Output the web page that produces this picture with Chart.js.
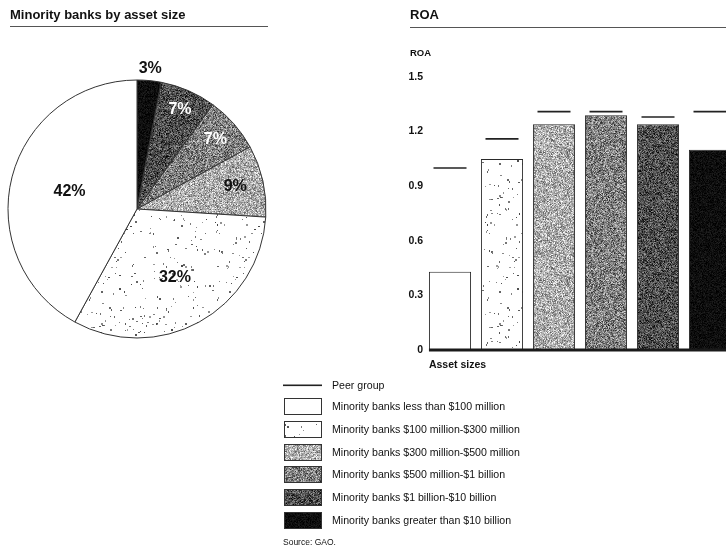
<!DOCTYPE html>
<html>
<head>
<meta charset="utf-8">
<script src="https://cdn.jsdelivr.net/npm/chart.js@4.4.0/dist/chart.umd.min.js"></script>
<style>
  html, body { margin: 0; padding: 0; background: #fff; width: 726px; height: 550px; overflow: hidden; position: relative; }
  canvas { position: absolute; top: 0; }
  #pie { left: 0; }
  #roa { left: 270px; }
</style>
</head>
<body>
<canvas id="pie" width="270" height="360"></canvas>
<canvas id="roa" width="470" height="550"></canvas>
<script>
// Asset-size groups, smallest to largest
const sizeGroups = [
  'Minority banks less than $100 million',
  'Minority banks $100 million-$300 million',
  'Minority banks $300 million-$500 million',
  'Minority banks $500 million-$1 billion',
  'Minority banks $1 billion-$10 billion',
  'Minority banks greater than $10 billion'
];
// Share of minority banks in each group (%)
const sharePercent = [42, 32, 9, 7, 7, 3];
// Return on assets for each group and for its peer group
const roaValues  = [0.43, 1.05, 1.24, 1.29, 1.24, 1.10];
const peerValues = [1.00, 1.16, 1.31, 1.31, 1.28, 1.31];
// Value axis
const roaMin = 0, roaMax = 1.5, roaStep = 0.3;

const FONT = "'Liberation Sans', Arial, Helvetica, sans-serif";
Chart.defaults.font.family = FONT;
Chart.defaults.color = '#111';

// ---- print-style fills: grainy halftone greys and a sparse stipple ----
const TILE = 128;
function hash(i, seed) {
  // integer mixing hash -> [0, 1)
  let h = (i * 374761393 + seed * 668265263) | 0;
  h = Math.imul(h ^ (h >>> 13), 1274126177);
  h ^= h >>> 16;
  return (h >>> 0) / 4294967296;
}
function grainFill(mean, amp, seed) {
  const c = document.createElement('canvas');
  c.width = c.height = TILE;
  const g = c.getContext('2d');
  const img = g.createImageData(TILE, TILE);
  for (let i = 0; i < TILE * TILE; i++) {
    const r = (hash(i, seed) + hash(i, seed + 101)) / 2;
    const v = Math.max(0, Math.min(255, Math.round(mean + (r - 0.5) * 2 * amp)));
    img.data[i * 4] = img.data[i * 4 + 1] = img.data[i * 4 + 2] = v;
    img.data[i * 4 + 3] = 255;
  }
  g.putImageData(img, 0, 0);
  return g.createPattern(c, 'repeat');
}
function stippleFill(density, seed) {
  const c = document.createElement('canvas');
  c.width = c.height = TILE;
  const g = c.getContext('2d');
  g.fillStyle = '#fff';
  g.fillRect(0, 0, TILE, TILE);
  for (let i = 0; i < TILE * TILE; i++) {
    if (hash(i, seed) < density) {
      const x = i % TILE, y = Math.floor(i / TILE);
      const shade = 70 + Math.round(hash(i, seed + 7) * 90);
      g.fillStyle = 'rgb(' + shade + ',' + shade + ',' + shade + ')';
      g.fillRect(x, y, hash(i, seed + 17) < 0.35 ? 2 : 1, hash(i, seed + 29) < 0.35 ? 2 : 1);
    }
  }
  return g.createPattern(c, 'repeat');
}
const groupFills = [
  '#ffffff',
  stippleFill(0.014, 3),
  grainFill(174, 95, 5),
  grainFill(128, 100, 7),
  grainFill(78, 85, 11),
  grainFill(14, 22, 13)
];

// ---- pie: share of banks by asset size ----
const pieLabelPlugin = {
  id: 'sliceLabels',
  afterDatasetsDraw(chart, args, opts) {
    const ctx = chart.ctx;
    const meta = chart.getDatasetMeta(0);
    const values = chart.data.datasets[0].data;
    ctx.save();
    ctx.font = 'bold 16px ' + FONT;
    ctx.textAlign = 'center';
    ctx.textBaseline = 'middle';
    meta.data.forEach((arc, i) => {
      const p = arc.getProps(['x', 'y', 'startAngle', 'endAngle', 'outerRadius'], true);
      const mid = (p.startAngle + p.endAngle) / 2;
      const r = p.outerRadius * opts.radial[i];
      ctx.fillStyle = opts.colors[i];
      ctx.fillText(values[i] + '%', p.x + Math.cos(mid) * r, p.y + Math.sin(mid) * r);
    });
    ctx.restore();
  }
};

const headingPlugin = {
  id: 'heading',
  afterDraw(chart, args, opts) {
    const ctx = chart.ctx;
    ctx.save();
    ctx.font = 'bold 13px ' + FONT;
    ctx.fillStyle = '#111';
    ctx.textBaseline = 'middle';
    ctx.textAlign = 'left';
    ctx.fillText(opts.text, opts.x, 15);
    ctx.strokeStyle = '#555';
    ctx.lineWidth = 1;
    ctx.beginPath();
    ctx.moveTo(opts.x, 26.5);
    ctx.lineTo(opts.x2, 26.5);
    ctx.stroke();
    ctx.restore();
  }
};

const pieOrder = [5, 4, 3, 2, 1, 0]; // clockwise from 12 o'clock: largest banks first
new Chart(document.getElementById('pie'), {
  type: 'pie',
  data: {
    labels: pieOrder.map(i => sizeGroups[i]),
    datasets: [{
      data: pieOrder.map(i => sharePercent[i]),
      backgroundColor: pieOrder.map(i => groupFills[i]),
      borderColor: '#333',
      borderWidth: 1
    }]
  },
  options: {
    responsive: false,
    animation: false,
    events: [],
    radius: 129,
    layout: { padding: { left: 8, top: 80, right: 4, bottom: 22 } },
    plugins: {
      legend: { display: false },
      tooltip: { enabled: false },
      heading: { text: 'Minority banks by asset size', x: 10, x2: 268 },
      sliceLabels: {
        radial: [1.09, 0.84, 0.81, 0.78, 0.61, 0.54],
        colors: ['#111', '#fff', '#fff', '#111', '#111', '#111']
      }
    }
  },
  plugins: [pieLabelPlugin, headingPlugin]
});

// ---- bars: ROA by asset size, with peer-group marks ----
const OFFSET_X = 270; // page x of the bar canvas
const roaDecor = {
  id: 'roaDecor',
  afterDatasetsDraw(chart) {
    const ctx = chart.ctx;
    const bars = chart.getDatasetMeta(0).data;
    const y0 = chart.scales.y.getPixelForValue(0);
    const left = bars[0].x - bars[0].width / 2;
    ctx.save();
    ctx.fillStyle = '#1a1a1a';
    ctx.fillRect(left, y0 - 1.5, chart.chartArea.right - left, 3);
    ctx.restore();
  },
  afterDraw(chart) {
    const ctx = chart.ctx;
    const bars = chart.getDatasetMeta(0).data;
    ctx.save();
    ctx.translate(-OFFSET_X, 0);
    ctx.fillStyle = '#111';
    ctx.textBaseline = 'middle';
    ctx.textAlign = 'left';
    // heading and rule
    ctx.font = 'bold 13px ' + FONT;
    ctx.fillText('ROA', 410, 15);
    ctx.strokeStyle = '#555';
    ctx.lineWidth = 1;
    ctx.beginPath();
    ctx.moveTo(410, 27.5);
    ctx.lineTo(740, 27.5);
    ctx.stroke();
    // axis captions
    ctx.font = 'bold 9.5px ' + FONT;
    ctx.fillText('ROA', 410, 53);
    ctx.font = 'bold 10.5px ' + FONT;
    ctx.fillText('Asset sizes', OFFSET_X + bars[0].x - bars[0].width / 2, 365);
    // legend
    ctx.font = '10.6px ' + FONT;
    ctx.fillStyle = '#222';
    ctx.fillRect(283, 384.5, 39, 1.6);
    ctx.fillStyle = '#111';
    ctx.fillText('Peer group', 332, 386);
    const rowTop = [398, 421, 444, 466, 489, 512];
    sizeGroups.forEach((name, i) => {
      ctx.fillStyle = groupFills[i];
      ctx.fillRect(284, rowTop[i], 38, 17);
      ctx.strokeStyle = '#333';
      ctx.strokeRect(284.5, rowTop[i] + 0.5, 37, 16);
      ctx.fillStyle = '#111';
      ctx.fillText(name, 332, rowTop[i] + 9);
    });
    ctx.font = '8.5px ' + FONT;
    ctx.fillText('Source: GAO.', 283, 543);
    ctx.restore();
  }
};

new Chart(document.getElementById('roa'), {
  data: {
    labels: sizeGroups,
    datasets: [
      {
        type: 'bar',
        label: 'ROA',
        data: roaValues,
        backgroundColor: groupFills,
        borderColor: '#2a2a2a',
        borderWidth: 1,
        barPercentage: 0.81,
        categoryPercentage: 1,
        order: 1
      },
      {
        type: 'line',
        label: 'Peer group',
        data: peerValues,
        showLine: false,
        pointStyle: 'line',
        pointRadius: 16.5,
        pointHoverRadius: 16.5,
        pointBorderWidth: 1.6,
        pointBorderColor: '#222',
        order: 0
      }
    ]
  },
  options: {
    responsive: false,
    animation: false,
    events: [],
    layout: { autoPadding: false, padding: { left: 124, top: 77, right: 4, bottom: 200 } },
    scales: {
      x: { display: false },
      y: {
        min: roaMin,
        max: roaMax,
        afterFit(scale) { scale.width = 30; },
        grid: { display: false, drawTicks: false },
        border: { display: false },
        ticks: {
          stepSize: roaStep,
          padding: 1,
          color: '#111',
          font: { size: 10.5, weight: 'bold' },
          callback: v => (v === 0 ? '0' : Number(v).toFixed(1))
        }
      }
    },
    plugins: {
      legend: { display: false },
      tooltip: { enabled: false }
    }
  },
  plugins: [roaDecor]
});
</script>
</body>
</html>
